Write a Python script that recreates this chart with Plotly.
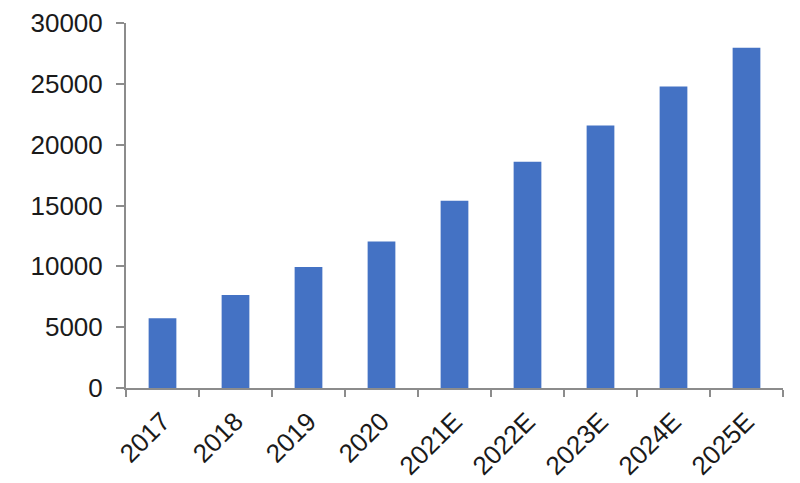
import plotly.graph_objects as go

# Data
years = ["2017", "2018", "2019", "2020", "2021E", "2022E", "2023E", "2024E", "2025E"]
values = [5730, 7640, 9950, 12040, 15400, 18590, 21580, 24780, 27960]

# Axis ticks
y_ticks = [0, 5000, 10000, 15000, 20000, 25000, 30000]
y_labels = [str(v) for v in y_ticks]

fig = go.Figure()
fig.add_trace(go.Bar(
    x=years, y=values,
    marker=dict(color="#4472C4", line=dict(width=0)),
))

# page body adds an 8px offset, so the figure is sized a little smaller
fig.update_layout(
    width=792, height=475,
    margin=dict(l=118, r=17, t=15, b=95),
    paper_bgcolor="white", plot_bgcolor="white",
    bargap=0.62,
    showlegend=False,
    font=dict(family="Liberation Sans, Arial, sans-serif", size=26, color="#1a1a1a"),
)
fig.update_xaxes(
    tickangle=-45, automargin=False,
    showline=True, linecolor="#8c8c8c", linewidth=2,
    ticks="outside", ticklen=7, tickcolor="#8c8c8c", tickwidth=2,
    tickson="boundaries", ticklabelstandoff=6,
    ticklabeloverflow="allow",
    showgrid=False,
)
fig.update_yaxes(
    range=[0, 30000], tickvals=y_ticks, ticktext=y_labels, automargin=False,
    showline=True, linecolor="#8c8c8c", linewidth=2,
    ticks="outside", ticklen=8, tickcolor="#8c8c8c", tickwidth=2,
    ticklabelstandoff=8, ticklabeloverflow="allow",
    showgrid=False, zeroline=False,
)

fig.write_html("out.html")
